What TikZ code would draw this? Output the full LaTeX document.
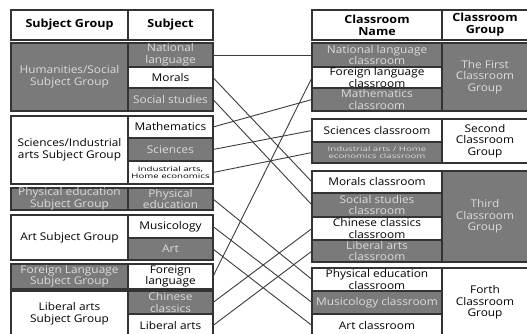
\documentclass[tikz,border=0pt]{standalone}
\usepackage{fontspec}
\setmainfont{Open Sans}[FakeStretch=1.12]
\definecolor{cg}{HTML}{7A7A7A}
\definecolor{bd}{HTML}{333333}
\definecolor{lt}{HTML}{DCDCDC}
\definecolor{ln}{HTML}{3C3C3C}
\newcommand\mainfs{\fontsize{10.6}{11.6}\selectfont}
\newcommand\tinyfs{\fontsize{6.4}{7.6}\selectfont}
\newcommand\hdrfs{\fontsize{11.2}{12}\selectfont\bfseries}
\newcommand\wide[1]{\scalebox{1.35}[1]{#1}}
\tikzset{
  cellbase/.style={draw=bd, line width=1.2pt, inner sep=0pt, outer sep=0pt, anchor=north west},
  cellg/.style={cellbase, fill=cg},
  cellw/.style={cellbase, fill=white},
  txtbase/.style={align=center, inner sep=0pt, font=\mainfs},
  txtg/.style={txtbase, text=lt},
  txtw/.style={txtbase, text=black},
  tinytxt/.style={font=\tinyfs},
  hdrtxt/.style={font=\hdrfs},
  link/.style={draw=ln, line width=0.9pt}
}
% name, x1, y1, x2, y2, g/w, extra text style, text
\newcommand\tcellx[8]{%
  \node[cell#6, minimum width=#4-#2, minimum height=#5-#3] (#1) at (#2,#3) {};
  \node[txt#6,#7] (#1t) at (#1.center) {#8};}
\newcommand\tcell[7]{\tcellx{#1}{#2}{#3}{#4}{#5}{#6}{}{#7}}
\begin{document}
\begin{tikzpicture}[x=1pt,y=-1pt]
\useasboundingbox (0,0) rectangle (527,333);
\clip (0,0) rectangle (527,333);
% left header
\tcellx{hSG}{11}{10}{128}{40}{w}{hdrtxt}{Subject Group}
\tcellx{hS}{128}{10}{213}{40}{w}{hdrtxt}{Subject}
% left groups
\tcell{gHum}{11}{43}{128}{111}{g}{Humanities/Social\\Subject Group}
\tcell{sNL}{128}{43}{213}{67}{g}{National\\language}
\tcell{sMor}{128}{67}{213}{88}{w}{Morals}
\tcell{sSoc}{128}{88}{213}{111}{g}{Social studies}
\tcell{gSci}{11}{116}{128}{184}{w}{Sciences/Industrial\\arts Subject Group}
\tcell{sMat}{128}{116}{213}{138}{w}{Mathematics}
\tcell{sSci}{128}{138}{213}{161}{g}{Sciences}
\tcellx{sInd}{128}{161}{213}{184}{w}{tinytxt}{\wide{Industrial arts,}\\\wide{Home economics}}
\tcell{gPE}{11}{188}{128}{210}{g}{Physical education\\Subject Group}
\tcell{sPE}{128}{188}{213}{210}{g}{Physical\\education}
\tcell{gArt}{11}{215}{128}{260}{w}{Art Subject Group}
\tcell{sMus}{128}{215}{213}{238}{w}{Musicology}
\tcell{sArt}{128}{238}{213}{260}{g}{Art}
\tcell{gFL}{11}{264}{128}{289}{g}{Foreign Language\\Subject Group}
\tcell{sFL}{128}{264}{213}{289}{w}{Foreign\\language}
\tcell{gLib}{11}{291}{128}{337}{w}{Liberal arts\\Subject Group}
\tcell{sChi}{128}{291}{213}{314}{g}{Chinese\\classics}
\tcell{sLib}{128}{314}{213}{337}{w}{Liberal arts}
% right header
\tcellx{hCN}{312}{10}{442}{40}{w}{hdrtxt}{Classroom\\Name}
\tcellx{hCG}{442}{10}{528}{40}{w}{hdrtxt}{Classroom\\Group}
% right groups
\tcell{rNL}{312}{43}{442}{67}{g}{National language\\classroom}
\tcell{rFL}{312}{67}{442}{88}{w}{Foreign language\\classroom}
\tcell{rMat}{312}{88}{442}{111}{g}{Mathematics\\classroom}
\tcell{cgA}{442}{43}{528}{111}{g}{The First\\Classroom\\Group}
\tcell{rSci}{312}{119}{442}{142}{w}{Sciences classroom}
\tcellx{rInd}{312}{142}{442}{163}{g}{tinytxt}{\wide{Industrial arts / Home}\\\wide{economics classroom}}
\tcell{cgB}{442}{119}{528}{163}{w}{Second\\Classroom\\Group}
\tcell{rMor}{312}{171}{442}{193}{w}{Morals classroom}
\tcell{rSoc}{312}{193}{442}{217}{g}{Social studies\\classroom}
\tcell{rChi}{312}{217}{442}{240}{w}{Chinese classics\\classroom}
\tcell{rLib}{312}{240}{442}{262}{g}{Liberal arts\\classroom}
\tcell{cgC}{442}{171}{528}{262}{g}{Third\\Classroom\\Group}
\tcell{rPE}{312}{268}{442}{291}{w}{Physical education\\classroom}
\tcell{rMus}{312}{291}{442}{314}{g}{Musicology classroom}
\tcell{rArt}{312}{314}{442}{337}{w}{Art classroom}
\tcell{cgD}{442}{268}{528}{337}{w}{Forth\\Classroom\\Group}
% connectors
\draw[link] (sNL.east) -- (rNL.west);
\draw[link] (sMor.east) -- (rMor.west);
\draw[link] (sSoc.east) -- (rSoc.west);
\draw[link] (sMat.east) -- (rMat.west);
\draw[link] (sSci.east) -- (rSci.west);
\draw[link] (sInd.east) -- (rInd.west);
\draw[link] (sPE.east) -- (rPE.west);
\draw[link] (sMus.east) -- (rMus.west);
\draw[link] (sArt.east) -- (rArt.west);
\draw[link] (sFL.east) -- (rFL.west);
\draw[link] (sChi.east) -- (rChi.west);
\draw[link] (sLib.east) -- (rLib.west);
\end{tikzpicture}
\end{document}
